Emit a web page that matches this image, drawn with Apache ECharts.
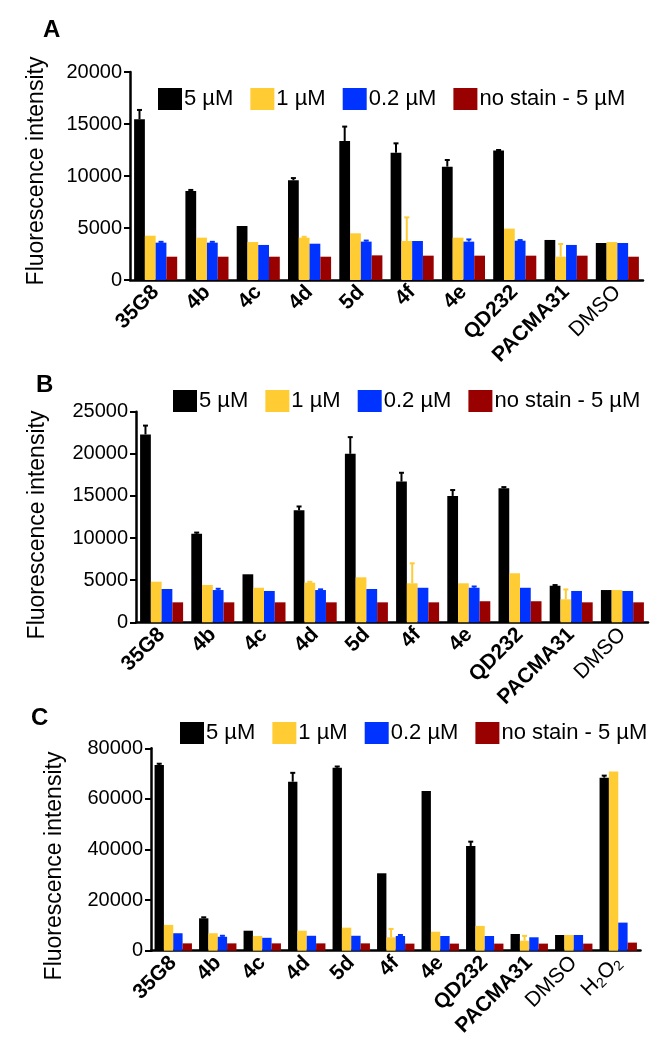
<!DOCTYPE html>
<html>
<head>
<meta charset="utf-8">
<script src="https://cdn.jsdelivr.net/npm/echarts@6/dist/echarts.min.js"></script>
<style>html,body{margin:0;padding:0;background:#fff;}#c{width:654px;height:1050px;}</style>
</head>
<body>
<div id="c"></div>
<script>
// ---------- data ----------
const catsAB = ['35G8','4b','4c','4d','5d','4f','4e','QD232','PACMA31','DMSO'];
const catsC  = ['35G8','4b','4c','4d','5d','4f','4e','QD232','PACMA31','DMSO','H2O2'];
const seriesNames = ['5 µM','1 µM','0.2 µM','no stain - 5 µM'];

// Panel A
const aBlack  = [15450, 8560, 5190, 9580, 13370, 12240, 10900, 12440, 3850, 3560];
const aYellow = [4260, 4070, 3650, 4070, 4490, 3750, 4070, 4940, 2240, 3650];
const aBlue   = [3590, 3590, 3370, 3490, 3690, 3750, 3690, 3780, 3370, 3560];
const aRed    = [2240, 2240, 2240, 2240, 2370, 2340, 2340, 2340, 2340, 2240];
const aBlackErr  = [900, 100, 0, 220, 1380, 900, 640, 60, 0, 0];
const aYellowErr = [0, 0, 0, 80, 0, 2270, 0, 0, 1220, 0];
const aBlueErr   = [80, 80, 0, 0, 100, 0, 210, 60, 0, 0];

// Panel B
const bBlack  = [22300, 10500, 5700, 13300, 20000, 16700, 15000, 15900, 4340, 3830];
const bYellow = [4820, 4430, 4100, 4700, 5340, 4630, 4630, 5820, 2730, 3830];
const bBlue   = [3950, 3830, 3720, 3830, 3950, 4100, 4100, 4100, 3720, 3720];
const bRed    = [2370, 2370, 2370, 2370, 2370, 2370, 2500, 2500, 2370, 2370];
const bBlackErr  = [1050, 150, 0, 450, 1980, 1050, 700, 150, 80, 0];
const bYellowErr = [0, 0, 0, 100, 0, 2370, 0, 0, 1170, 0];
const bBlueErr   = [0, 150, 0, 80, 0, 0, 150, 0, 0, 0];

// Panel C
const cBlack  = [73400, 12800, 7900, 66800, 72300, 30600, 63100, 41400, 6600, 6200, 68400];
const cYellow = [10200, 6900, 5800, 7900, 9100, 5300, 7500, 9800, 3950, 6200, 70800];
const cBlue   = [6900, 5500, 5100, 5900, 5900, 5800, 5800, 5800, 5300, 6200, 11100];
const cRed    = [2900, 2900, 2900, 2900, 2900, 2800, 2800, 2800, 2800, 2800, 3200];
const cBlackErr  = [500, 400, 0, 3500, 500, 0, 0, 1700, 0, 0, 800];
const cYellowErr = [0, 0, 0, 0, 0, 3300, 0, 0, 1900, 0, 0];
const cBlueErr   = [0, 400, 0, 0, 0, 400, 0, 0, 0, 0, 0];

// ---------- styling ----------
const colors = ['#000000', '#FFCC33', '#0033FF', '#990000'];
const FONT = '"Liberation Sans", Arial, Helvetica, sans-serif';
const CAT_GAP = 0.16;

const panels = [
  {vals:[aBlack,aYellow,aBlue,aRed], errs:[aBlackErr,aYellowErr,aBlueErr], cats:catsAB,
   grid:{left:130, top:72, width:513, height:208}, max:20000, interval:5000,
   legend:{left:158, top:88}, letter:{t:'A', left:38, top:13}, nameGap:82, namePad:[0,0,0,10]},
  {vals:[bBlack,bYellow,bBlue,bRed], errs:[bBlackErr,bYellowErr,bBlueErr], cats:catsAB,
   grid:{left:136, top:411.7, width:512, height:210.6}, max:25000, interval:5000,
   legend:{left:173, top:390}, letter:{t:'B', left:31, top:368}, nameGap:87, namePad:[0,16,0,0]},
  {vals:[cBlack,cYellow,cBlue,cRed], errs:[cBlackErr,cYellowErr,cBlueErr], cats:catsC,
   grid:{left:151, top:748.3, width:489.5, height:202.4}, max:80000, interval:20000,
   legend:{left:180, top:722}, letter:{t:'C', left:26, top:701}, nameGap:85, namePad:[0,33,0,0]}
];

function catFormatter(v){
  if (v === 'DMSO') return '{n|DMSO}';
  if (v === 'H2O2') return '{n|H}{s|2}{n|O}{s|2}';
  return '{b|' + v + '}';
}

function renderErr(params, api){
  const i = api.value(0), s = api.value(1), v = api.value(2), e = api.value(3);
  const band = api.size([1, 0])[0];
  const w = band * (1 - CAT_GAP) / 4;
  const cx = api.coord([i, 0])[0] + (s - 1.5) * w;
  const yBase = api.coord([i, v])[1];
  const yTop = api.coord([i, v + e])[1];
  const col = colors[s];
  return {type:'group', children:[
    {type:'line', shape:{x1:cx, y1:yBase, x2:cx, y2:yTop}, style:{stroke:col, lineWidth:2}},
    {type:'line', shape:{x1:cx-2.5, y1:yTop, x2:cx+2.5, y2:yTop}, style:{stroke:col, lineWidth:2}}
  ]};
}

const option = {
  animation:false,
  backgroundColor:'#ffffff',
  textStyle:{fontFamily:FONT},
  title:[], grid:[], xAxis:[], yAxis:[], legend:[], series:[]
};

panels.forEach((p, k) => {
  option.title.push({text:p.letter.t, left:p.letter.left, top:p.letter.top,
    textStyle:{fontFamily:FONT, fontSize:24, fontWeight:'bold', color:'#000'}});
  option.grid.push(Object.assign({containLabel:false}, p.grid));
  option.xAxis.push({type:'category', gridIndex:k, data:p.cats,
    axisLine:{lineStyle:{color:'#000', width:2.5}},
    axisTick:{alignWithLabel:true, length:5, lineStyle:{color:'#000', width:2}},
    axisLabel:{interval:0, rotate:45, margin:9, formatter:catFormatter,
      rich:{
        b:{fontFamily:FONT, fontSize:21, fontWeight:'bold', color:'#000'},
        n:{fontFamily:FONT, fontSize:21, color:'#000'},
        s:{fontFamily:FONT, fontSize:14, color:'#000', padding:[10,0,0,0]}
      }}
  });
  option.yAxis.push({type:'value', gridIndex:k, min:0, max:p.max, interval:p.interval,
    name:'Fluorescence intensity', nameLocation:'middle', nameGap:p.nameGap, nameRotate:90,
    nameTextStyle:{fontFamily:FONT, fontSize:23, color:'#000', padding:p.namePad},
    splitLine:{show:false},
    axisLine:{show:true, lineStyle:{color:'#000', width:2.5}},
    axisTick:{show:true, length:6, lineStyle:{color:'#000', width:2}},
    axisLabel:{fontFamily:FONT, fontSize:20, color:'#000', margin:8,
      formatter:(v) => String(v)}
  });
  option.legend.push({data:seriesNames.slice(), left:p.legend.left, top:p.legend.top,
    width:520, padding:0,
    orient:'horizontal', icon:'rect', itemWidth:24, itemHeight:22, itemGap:17,
    selectedMode:false,
    textStyle:{fontFamily:FONT, fontSize:22, color:'#000', padding:[0,0,0,-3]}});
  seriesNames.forEach((nm, s) => {
    option.series.push({type:'bar', name:nm, xAxisIndex:k, yAxisIndex:k,
      data:p.vals[s], barGap:'0%', barCategoryGap:(CAT_GAP*100)+'%',
      itemStyle:{color:colors[s]}, z:2});
  });
  const errData = [];
  p.errs.forEach((arr, s) => {
    arr.forEach((e, i) => { if (e > 0) errData.push([i, s, p.vals[s][i], e]); });
  });
  option.series.push({type:'custom', name:'err'+k, xAxisIndex:k, yAxisIndex:k,
    renderItem:renderErr, data:errData, encode:{x:0, y:2}, z:3, silent:true});
});

const chart = echarts.init(document.getElementById('c'), null, {renderer:'canvas'});
chart.setOption(option);
</script>
</body>
</html>
